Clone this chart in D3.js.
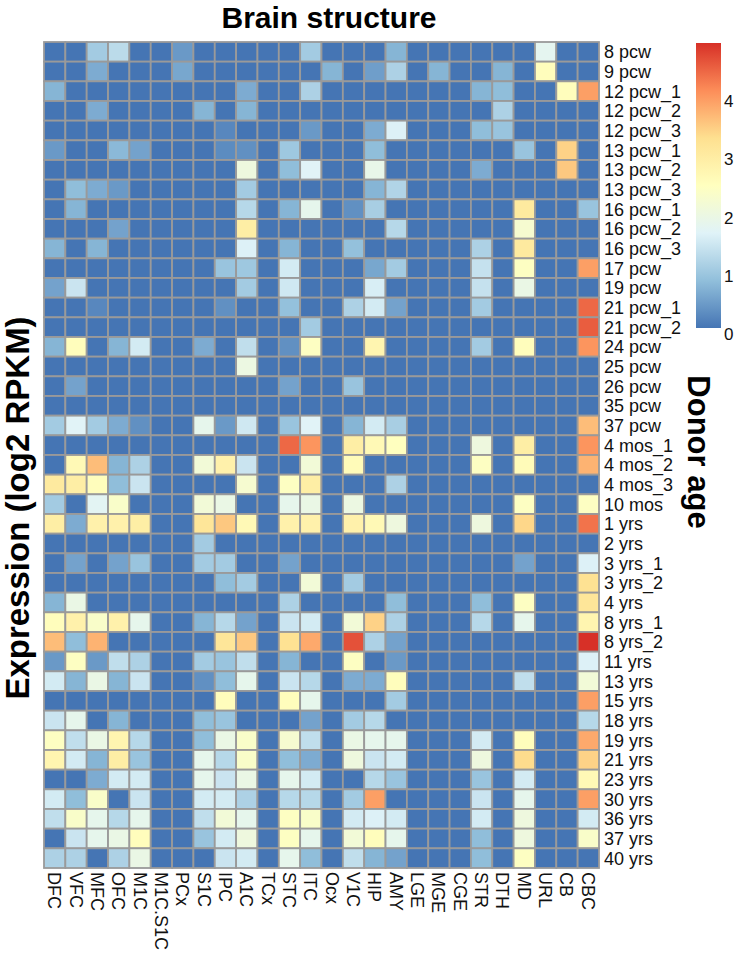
<!DOCTYPE html>
<html>
<head>
<meta charset="utf-8">
<script src="https://cdn.jsdelivr.net/npm/d3@7/dist/d3.min.js"></script>
<style>
  html, body { margin: 0; padding: 0; background: #fff; }
  svg { display: block; font-family: "Liberation Sans", Arial, sans-serif; }
</style>
</head>
<body>
<svg id="chart" width="735" height="954"></svg>
<script>
const brainStructures = ["DFC","VFC","MFC","OFC","M1C","M1C.S1C","PCx","S1C","IPC","A1C","TCx","STC","ITC","Ocx","V1C","HIP","AMY","LGE","MGE","CGE","STR","DTH","MD","URL","CB","CBC"];

const donorAges = ["8 pcw","9 pcw","12 pcw_1","12 pcw_2","12 pcw_3","13 pcw_1","13 pcw_2","13 pcw_3","16 pcw_1","16 pcw_2","16 pcw_3","17 pcw","19 pcw","21 pcw_1","21 pcw_2","24 pcw","25 pcw","26 pcw","35 pcw","37 pcw","4 mos_1","4 mos_2","4 mos_3","10 mos","1 yrs","2 yrs","3 yrs_1","3 yrs_2","4 yrs","8 yrs_1","8 yrs_2","11 yrs","13 yrs","15 yrs","18 yrs","19 yrs","21 yrs","23 yrs","30 yrs","36 yrs","37 yrs","40 yrs"];

// expression (log2 RPKM): one row per donor age, one value per brain structure
const expression = [
  [0,0,1.0,1.25,0,0,0.4,0,0,0,0,0,1.0, 0,0,0,0.7,0,0,0,0,0,0,1.75,0,0],
  [0,0,0.6,0,0,0,0.55,0,0,0,0,0,0, 0.7,0,0.45,1.1,0,0.7,0,0,0.7,0,2.5,0,0],
  [0.7,0,0,0,0,0,0,0,0,0.6,0,0,1.1, 0,0,0,0,0,0,0,0.7,0.8,0,0,2.5,3.9],
  [0,0,0.6,0,0,0,0,0.7,0,0.7,0,0,0, 0,0,0,0,0,0,0,0,1.1,0,0,0,0],
  [0,0,0,0,0,0,0,0,0.2,0,0,0,0.4, 0,0,0.6,1.6,0,0,0,0.8,0.9,0,0,0,0],
  [0.4,0,0,0.75,0.5,0,0,0,0.25,0.3,0,0.95,0, 0,0,0.8,0,0,0,0,0,0,0.9,0,3.4,0],
  [0,0,0,0,0,0,0,0,0,2.0,0,0.8,1.65, 0,0,1.85,0,0,0,0,0.6,0,0,0,3.5,0],
  [0,0.8,0.6,0.4,0,0,0,0,0,1.0,0,0,0, 0,0,0.7,1.15,0,0,0,0,0,0,0,0,0],
  [0,0.7,0,0,0,0,0,0,0,1.2,0,0.7,1.8, 0,0.3,1.05,0,0,0,0,0,0,3.0,0,0,0.9],
  [0,0,0,0.5,0,0,0,0,0,2.9,0,0,0, 0,0,0,1.2,0,0,0,0,0,2.2,0,0,0],
  [0.7,0,0.7,0,0,0,0,0,0,1.6,0,0.7,0, 0,0.85,0,0,0,0,0,1.1,0,3.0,0,0,0],
  [0,0,0,0,0,0,0,0,0.9,0.95,0,1.5,0, 0,0,0.55,1.0,0,0,0,1.35,0,2.4,0,0,3.9],
  [0.5,1.4,0,0,0,0,0,0,0,1.0,0,1.45,0, 0,0,1.55,0,0,0,0,1.35,0,1.9,0,0,0],
  [0,0,0.2,0,0,0,0,0,0.3,0,0,0.85,0, 0,1.1,1.5,0.5,0,0,0,1.0,0,0,0,0,4.4],
  [0,0,0,0,0,0,0,0,0,0,0,0,1.0, 0,0,0,0,0,0,0,0,0,0,0,0,4.5],
  [0.7,2.5,0,0.7,1.5,0,0,0.6,0,1.3,0,0.3,2.4, 0,0,2.7,0,0,0,0,1.0,0,2.5,0,0,4.0],
  [0,0,0,0,0,0,0,0,0,1.95,0,0,0, 0,0,0,0,0,0,0,0,0,0,0,0,0],
  [0,0.5,0,0,0,0,0,0,0,0,0,0.5,0, 0,0.9,0,0,0,0,0,0,0,0,0,0,0],
  [0,0,0,0,0,0,0,0,0,0,0,0,0, 0,0,0,0,0,0,0,0,0,0,0,0,0],
  [1.0,1.65,1.0,0.6,0.3,0,0,1.8,0.4,1.45,0,0.9,1.65, 0,0.7,1.5,1.05,0,0,0,0,0,0,0,0,3.6],
  [0,0,0,0,0,0,0,0,0,0,0,4.4,4.0, 0,2.9,2.6,2.45,0,0,0,2.0,0,2.9,0,0,4.0],
  [0,2.6,3.6,0.7,1.1,0,0,2.1,2.8,1.4,0,0,2.1, 0,2.55,0,0,0,0,0,2.4,0,2.55,0,0,3.7],
  [3.0,2.9,2.5,0.8,1.4,0,0,0,0,2.2,0,2.4,2.9, 0,0,0,1.1,0,0,0,0,0,0,0,0,0],
  [1.0,0,1.7,2.3,0,0,0,2.1,1.9,0,0,1.8,1.9, 0,1.95,0,0,0,0,0,0,0,2.4,0,0,2.4],
  [2.9,0.6,2.8,2.8,2.9,0,0,3.1,3.5,2.6,0,2.8,2.8, 0,2.8,2.6,2.0,0,0,0,2.0,0,3.35,0,0,4.3],
  [0,0,0,0,0,0,0,1.0,0,0,0,0,0, 0,0,0,0,0,0,0,0,0,0,0,0,0],
  [0,0.5,0,0.5,0.9,0,0,1.0,1.0,0,0,0.5,0, 0,0,0,0,0,0,0,0,0,0.5,0,0,1.6],
  [0,0,0,0,0,0,0,0,0.8,1.0,0,0,2.1, 0,1.0,0,0,0,0,0,0,0,0,0,0,3.2],
  [0.7,1.9,0,0,0,0,0,0,0,0,0,1.1,0, 0,0,0,0.8,0,0,0,0.8,0,2.4,0,0,3.1],
  [2.5,2.8,2.3,2.8,1.8,0,0,0.7,1.2,0.5,0,1.4,1.5, 0,2.1,3.4,1.1,0,0,0,1.2,0,1.8,0,0,2.7],
  [3.6,0.8,3.7,0,0,0,0,0,3.1,3.5,0,3.2,3.8, 0,4.6,1.1,0.5,0,0,0,0,0,0,0,0,4.89],
  [0.4,2.4,0.4,1.3,1.1,0,0,1.0,0.9,1.3,0,0.7,0, 0,2.4,0,0.4,0,0,0,0,0,0,0,0,1.6],
  [1.5,0.7,1.9,0.7,1.4,0,0,0.3,0.8,1.8,0,1.4,1.2, 0,0.6,0.6,2.5,0,0,0,0,0,1.3,0,0,2.1],
  [0,0,0,0,0,0,0,0,2.5,0,0,2.5,1.8, 0,0,0,1.0,0,0,0,0,0,0,0,0,3.9],
  [1.4,1.8,0,0.7,0,0,0,0.8,0.9,0,0,0,0.5, 0,1.0,1.2,0,0,0,0,0,0,0,0,0,1.2],
  [2.4,1.3,1.9,2.7,1.2,0,0,0.8,1.9,2.3,0,2.2,1.3, 0,1.9,1.8,1.8,0,0,0,1.5,0,2.5,0,0,3.8],
  [2.7,1.5,0.7,2.9,0.9,0,0,1.8,1.2,2.3,0,0.8,0.6, 0,2.0,1.4,1.5,0,0,0,2.0,0,3.3,0,0,3.4],
  [0,0,0.6,1.5,1.5,0,0,1.8,1.4,1.9,0,1.8,1.5, 0,0,1.2,0.9,0,0,0,0.9,0,1.5,0,0,2.6],
  [1.5,0.8,2.3,0,1.4,0,0,1.5,1.5,1.1,0,1.2,1.2, 0,1.0,3.9,0,0,0,0,1.4,0,1.8,0,0,3.9],
  [1.3,2.3,1.8,1.2,1.8,0,0,1.3,2.1,1.8,0,2.4,2.3, 0,1.5,1.6,1.5,0,0,0,1.5,0,2.0,0,0,1.5],
  [0,1.4,1.8,1.9,2.5,0,0,0.9,1.5,2.0,0,2.4,1.8, 0,2.1,2.5,1.8,0,0,0,0.8,0,2.0,0,0,2.3],
  [1.1,1.1,0,1.1,1.9,0,0,0,1.4,1.5,0,1.8,0.8, 0,1.3,0.7,0.5,0,0,0,0.8,0,2.4,0,0,0]
];

const legendTicks = [0, 1, 2, 3, 4];
const palette = ["#4575B4","#91BFDB","#E0F3F8","#FFFFBF","#FEE090","#FC8D59","#D73027"];

const svg = d3.select("#chart");

const minV = 0;
const maxV = d3.max(expression, r => d3.max(r));

const x = d3.scaleBand().domain(brainStructures).range([44, 599]).padding(0);
const y = d3.scaleBand().domain(donorAges).range([42, 868]).padding(0);

const color = d3.scaleLinear()
  .domain(palette.map((c, i) => minV + i * (maxV - minV) / (palette.length - 1)))
  .range(palette)
  .interpolate(d3.interpolateRgb);

const cells = [];
expression.forEach((row, i) => row.forEach((v, j) => cells.push({age: donorAges[i], region: brainStructures[j], v})));

svg.append("g")
  .selectAll("rect")
  .data(cells)
  .join("rect")
  .attr("x", d => x(d.region))
  .attr("y", d => y(d.age))
  .attr("width", x.bandwidth())
  .attr("height", y.bandwidth())
  .attr("fill", d => color(d.v))
  .attr("stroke", "#9a9a9a")
  .attr("stroke-width", 1.8);

// Row labels (donor age)
svg.append("g")
  .selectAll("text")
  .data(donorAges)
  .join("text")
  .attr("x", 604)
  .attr("y", d => y(d) + y.bandwidth() / 2)
  .attr("dy", "0.36em")
  .attr("font-size", 18)
  .attr("fill", "#111")
  .text(d => d);

// Column labels (brain structure)
svg.append("g")
  .selectAll("text")
  .data(brainStructures)
  .join("text")
  .attr("transform", d => `translate(${x(d) + x.bandwidth() / 2},872) rotate(90)`)
  .attr("dy", "0.36em")
  .attr("font-size", 18)
  .attr("fill", "#111")
  .text(d => d);

// Titles
svg.append("text")
  .attr("x", 329).attr("y", 28)
  .attr("text-anchor", "middle")
  .attr("font-size", 30).attr("font-weight", "bold")
  .text("Brain structure");

svg.append("text")
  .attr("transform", "translate(688,452) rotate(90)")
  .attr("text-anchor", "middle")
  .attr("font-size", 31).attr("font-weight", "bold")
  .text("Donor age");

svg.append("text")
  .attr("transform", "translate(29,508) rotate(-90)")
  .attr("text-anchor", "middle")
  .attr("font-size", 33).attr("font-weight", "bold")
  .text("Expression (log2 RPKM)");

// Color legend
const defs = svg.append("defs");
const grad = defs.append("linearGradient")
  .attr("id", "legendGrad")
  .attr("x1", 0).attr("y1", 1).attr("x2", 0).attr("y2", 0);
grad.selectAll("stop")
  .data(palette)
  .join("stop")
  .attr("offset", (d, i) => i / (palette.length - 1))
  .attr("stop-color", d => d);

const legendY = d3.scaleLinear().domain([minV, maxV]).range([328, 43]);

svg.append("rect")
  .attr("x", 696).attr("y", legendY(maxV))
  .attr("width", 25).attr("height", legendY(minV) - legendY(maxV))
  .attr("fill", "url(#legendGrad)");

svg.append("g")
  .selectAll("text")
  .data(legendTicks)
  .join("text")
  .attr("x", 724)
  .attr("y", d => legendY(d) + 6)
  .attr("dy", "0.36em")
  .attr("font-size", 17)
  .attr("fill", "#111")
  .text(d => d);
</script>
</body>
</html>
